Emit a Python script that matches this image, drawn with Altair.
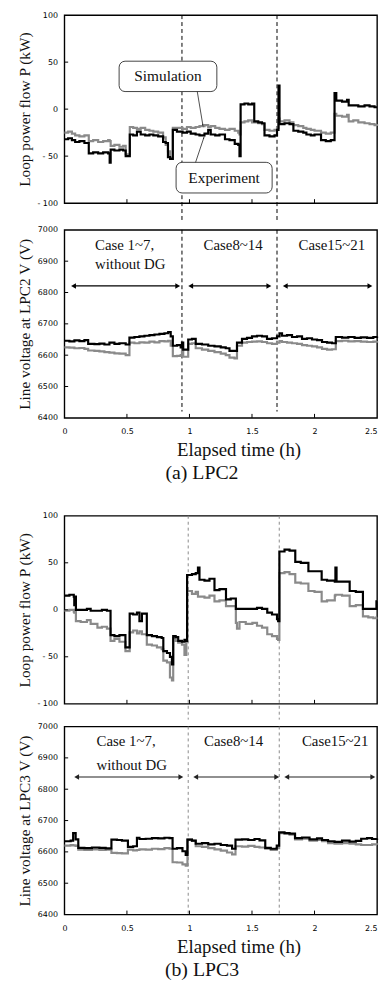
import altair as alt
import pandas as pd

# ---------------- data ----------------
# (a) LPC2 : loop power flow P (kW)
A1_T = [0.00, 0.03, 0.06, 0.086, 0.12, 0.16, 0.195, 0.23, 0.27, 0.31, 0.35, 0.362, 0.37, 0.40, 0.44, 0.47,
        0.49, 0.523, 0.55, 0.58, 0.61, 0.646, 0.68, 0.711, 0.75, 0.789, 0.81, 0.828, 0.845, 0.867, 0.90, 0.945,
        0.98, 1.01, 1.049, 1.08, 1.12, 1.15, 1.17, 1.206, 1.24, 1.284, 1.32, 1.362, 1.39, 1.40, 1.409, 1.44,
        1.47, 1.50, 1.518, 1.55, 1.58, 1.60, 1.64, 1.68, 1.70, 1.712, 1.72, 1.76, 1.80, 1.831, 1.87, 1.91,
        1.935, 1.97, 2.00, 2.052, 2.09, 2.13, 2.16, 2.174, 2.22, 2.26, 2.273, 2.31, 2.35, 2.40, 2.44, 2.48, 2.50]
A1_EXP = [-32, -31, -33, -35, -34, -36, -47, -46, -47, -46, -47, -57, -43, -44, -43, -44,
          -50, -27, -28, -24, -27, -28, -27, -28, -29, -35, -36, -51, -53, -22, -24, -25,
          -24, -26, -27, -28, -26, -22, -27, -28, -27, -32, -33, -37, -38, -50, 5, 6,
          5, 6, -13, -14, -15, -28, -29, -28, -22, 25, -16, -15, -16, -23, -24, -25,
          -27, -28, -27, -33, -34, -33, 17, 9, 8, 10, 4, 4, 3, 4, 3, 2, 2]
A1_SIM = [-25, -24, -26, -28, -29, -28, -34, -33, -35, -34, -33, -34, -39, -38, -40, -39,
          -48, -19, -20, -21, -20, -22, -23, -24, -25, -30, -38, -45, -52, -20, -20, -21,
          -19, -20, -19, -18, -17, -19, -18, -20, -21, -22, -21, -23, -25, -27, -14, -13,
          -12, -14, -14, -15, -16, -22, -23, -22, -20, -10, -13, -12, -14, -17, -18, -20,
          -21, -22, -23, -25, -26, -25, -5, -7, -8, -6, -13, -12, -14, -15, -16, -17, -18]

# (a) LPC2 : line voltage V (V)
A2_T = [0.00, 0.04, 0.08, 0.12, 0.16, 0.19, 0.24, 0.28, 0.32, 0.36, 0.40, 0.44, 0.49, 0.52, 0.56, 0.60,
        0.64, 0.68, 0.72, 0.76, 0.80, 0.83, 0.85, 0.867, 0.90, 0.93, 0.94, 0.95, 0.99, 1.02, 1.05, 1.10,
        1.15, 1.20, 1.25, 1.29, 1.32, 1.36, 1.38, 1.42, 1.46, 1.50, 1.54, 1.58, 1.62, 1.66, 1.70, 1.72,
        1.74, 1.78, 1.82, 1.86, 1.90, 1.94, 1.98, 2.02, 2.06, 2.10, 2.14, 2.17, 2.22, 2.27, 2.32, 2.37,
        2.42, 2.47, 2.50]
A2_EXP = [6646, 6644, 6647, 6645, 6648, 6636, 6635, 6637, 6634, 6640, 6636, 6638, 6634, 6656, 6658, 6660,
          6662, 6664, 6666, 6668, 6670, 6674, 6660, 6630, 6632, 6625, 6640, 6618, 6650, 6652, 6636, 6634,
          6630, 6628, 6625, 6622, 6614, 6614, 6640, 6652, 6655, 6660, 6662, 6660, 6652, 6654, 6660, 6670,
          6662, 6664, 6658, 6660, 6652, 6654, 6650, 6648, 6642, 6640, 6638, 6658, 6656, 6658, 6655, 6657,
          6655, 6658, 6660]
A2_SIM = [6625, 6624, 6622, 6623, 6620, 6615, 6614, 6612, 6610, 6608, 6606, 6605, 6600, 6640, 6638, 6641,
          6640, 6643, 6641, 6645, 6644, 6646, 6630, 6597, 6598, 6600, 6612, 6595, 6636, 6638, 6622, 6618,
          6614, 6610, 6605, 6600, 6592, 6590, 6630, 6640, 6642, 6643, 6644, 6642, 6638, 6636, 6640, 6645,
          6642, 6640, 6638, 6636, 6632, 6630, 6628, 6625, 6620, 6618, 6619, 6645, 6646, 6644, 6645, 6643,
          6642, 6643, 6645]

# (b) LPC3 : loop power flow P (kW)
B1_T = [0.00, 0.04, 0.075, 0.079, 0.085, 0.092, 0.13, 0.18, 0.21, 0.264, 0.30, 0.34, 0.369, 0.40, 0.44, 0.488,
        0.522, 0.55, 0.58, 0.60, 0.62, 0.659, 0.70, 0.74, 0.778, 0.791, 0.82, 0.844, 0.86, 0.87, 0.89, 0.91,
        0.94, 0.96, 0.975, 0.981, 1.02, 1.05, 1.068, 1.08, 1.12, 1.16, 1.20, 1.24, 1.292, 1.33, 1.371, 1.38,
        1.40, 1.45, 1.503, 1.54, 1.58, 1.622, 1.66, 1.70, 1.709, 1.719, 1.76, 1.80, 1.846, 1.89, 1.951, 2.00,
        2.057, 2.10, 2.162, 2.167, 2.176, 2.22, 2.281, 2.33, 2.387, 2.43, 2.47, 2.495, 2.50]
B1_EXP = [15, 16, 14, 5, 14, 0, 0, 1, -1, -1, 0, -1, -27, -28, -27, -40,
          -4, -5, -3, -12, -4, -27, -28, -29, -30, -44, -46, -50, -58, -28, -29, -33,
          -34, -32, -33, 37, 38, 39, 45, 32, 31, 33, 21, 22, 11, 12, 1, 1,
          1, 1, 1, 2, 1, -3, -5, -10, -12, 62, 64, 63, 51, 50, 41, 41,
          32, 31, 30, 45, 30, 30, 20, 19, 1, 1, 1, 9, 9]
B1_SIM = [-1, 0, -2, -3, -1, -12, -13, -11, -15, -19, -18, -20, -33, -31, -34, -44,
          -24, -22, -25, -23, -26, -37, -38, -40, -42, -54, -56, -72, -75, -30, -33, -35,
          -37, -48, -34, 20, 17, 19, 14, 14, 13, 15, 9, 10, 4, 4, -14, -20,
          -13, -15, -14, -17, -19, -26, -28, -31, -32, 39, 40, 38, 29, 28, 20, 19,
          9, 10, 15, 16, 16, 15, 4, 5, -7, -8, -9, -8, -8]

# (b) LPC3 : line voltage V (V)
B2_T = [0.00, 0.05, 0.07, 0.09, 0.111, 0.16, 0.22, 0.28, 0.33, 0.376, 0.42, 0.46, 0.508, 0.55, 0.58, 0.60,
        0.65, 0.70, 0.75, 0.80, 0.84, 0.865, 0.90, 0.944, 0.97, 0.984, 1.02, 1.05, 1.10, 1.15, 1.20, 1.25,
        1.30, 1.341, 1.368, 1.42, 1.47, 1.52, 1.56, 1.606, 1.65, 1.698, 1.717, 1.76, 1.80, 1.844, 1.90, 1.96,
        2.02, 2.06, 2.108, 2.16, 2.22, 2.28, 2.33, 2.373, 2.42, 2.46, 2.50]
B2_EXP = [6634, 6636, 6660, 6640, 6613, 6612, 6614, 6613, 6611, 6639, 6638, 6636, 6616, 6618, 6645, 6641,
          6642, 6644, 6643, 6645, 6644, 6610, 6612, 6602, 6590, 6639, 6636, 6626, 6628, 6624, 6626, 6622,
          6620, 6610, 6639, 6640, 6638, 6641, 6637, 6613, 6610, 6620, 6662, 6660, 6658, 6644, 6646, 6640,
          6643, 6638, 6634, 6632, 6636, 6633, 6635, 6642, 6644, 6641, 6643]
B2_SIM = [6620, 6622, 6621, 6619, 6607, 6606, 6608, 6606, 6607, 6597, 6596, 6595, 6607, 6605, 6606, 6608,
          6607, 6610, 6609, 6612, 6610, 6567, 6566, 6560, 6556, 6639, 6635, 6618, 6616, 6612, 6608, 6604,
          6598, 6592, 6618, 6617, 6619, 6616, 6614, 6610, 6606, 6612, 6660, 6658, 6655, 6640, 6642, 6636,
          6638, 6634, 6628, 6626, 6628, 6626, 6624, 6622, 6622, 6624, 6623]

P_TICKS = [-100, -50, 0, 50, 100]
V_TICKS = [6400, 6500, 6600, 6700, 6800, 6900, 7000]
X_TICKS = [0, 0.5, 1, 1.5, 2, 2.5]
CASE_TEXT = ["Case 1~7,", "without DG", "Case8~14", "Case15~21"]

BLACK = "#000000"
GRAY = "#8a8a8a"
SERIF = "Liberation Serif"
SANS = "DejaVu Sans"
H = 190
W = 316


def make_panel(T, exp, sim, ydom, yticks, ytitle, bottom_label=None,
               dashes=(), dash_v2=None, dash_color=BLACK, dash_pattern=(4, 3),
               arrows=None, arrow_v=None, arrow_color=BLACK, texts=None, callouts=False,
               tick_px_units=None, bottom_space=None):
    xs = alt.Scale(domain=[0, 2.5], nice=False, zero=False)
    ys = alt.Scale(domain=ydom, nice=False, zero=False)
    if ydom[0] < 0:
        lab = "datum.value < 0 ? '- ' + abs(datum.value) : datum.label"
    else:
        lab = "datum.label"
    yaxis = alt.Axis(values=yticks, title=ytitle, ticks=False, domain=False, grid=False,
                     labelFont=SANS, labelFontSize=8, labelColor="#000", labelPadding=7,
                     labelExpr=lab, format="d",
                     titleFont=SERIF, titleFontSize=15.5, titleFontWeight="normal", titleColor="#111",
                     titlePadding=8, minExtent=24, maxExtent=24)
    if bottom_label is not None:
        xaxis = alt.Axis(values=X_TICKS, title="Elapsed time (h)", ticks=False, domain=False, grid=False,
                         labelFont=SANS, labelFontSize=8, labelColor="#000", labelPadding=10,
                         labelFlush=False, format="~g",
                         labelAlign={"condition": {"test": "datum.value >= 2.5", "value": "right"},
                                     "value": "center"},
                         titleFont=SERIF, titleFontSize=19, titleFontWeight="normal", titleColor="#111",
                         titlePadding=5, titleX=176, titleAlign="center")
    else:
        xaxis = None
    X = alt.X("t:Q", scale=xs, axis=xaxis)
    Y = alt.Y("v:Q", scale=ys, axis=yaxis)
    X2 = alt.X2("t2:Q")
    Y2 = alt.Y2("v2:Q")

    layers = []
    # vertical dashed separators
    ddf = pd.DataFrame({"t": list(dashes), "v": [ydom[1]] * len(dashes), "v2": [dash_v2] * len(dashes)})
    layers.append(alt.Chart(ddf).mark_rule(color=dash_color, strokeWidth=1,
                                           strokeDash=list(dash_pattern)).encode(x=X, y=Y, y2=Y2))
    # series
    sdf = pd.DataFrame({"t": T, "v": sim})
    edf = pd.DataFrame({"t": T, "v": exp})
    layers.append(alt.Chart(sdf).mark_line(color=GRAY, strokeWidth=2.2, interpolate="step-after")
                  .encode(x=X, y=Y))
    layers.append(alt.Chart(edf).mark_line(color=BLACK, strokeWidth=2.2, interpolate="step-after")
                  .encode(x=X, y=Y))
    # inward ticks
    dv = tick_px_units
    tx = [v for v in X_TICKS if 0 < v < 2.5]
    ty = [v for v in yticks if ydom[0] < v < ydom[1]]
    tdf = pd.DataFrame({"t": tx + [0] * len(ty),
                        "t2": tx + [0.03] * len(ty),
                        "v": [ydom[0]] * len(tx) + ty,
                        "v2": [ydom[0] + dv] * len(tx) + ty})
    layers.append(alt.Chart(tdf).mark_rule(color=BLACK, strokeWidth=1).encode(x=X, x2=X2, y=Y, y2=Y2))

    if arrows is not None:
        adf = pd.DataFrame({"t": [a[0] for a in arrows], "t2": [a[1] for a in arrows],
                            "v": [arrow_v] * len(arrows)})
        layers.append(alt.Chart(adf).mark_rule(color=arrow_color, strokeWidth=1.2)
                      .encode(x=X, x2=X2, y=Y))
        ldf = pd.DataFrame({"t": [a[0] for a in arrows], "v": [arrow_v] * len(arrows)})
        rdf = pd.DataFrame({"t": [a[1] for a in arrows], "v": [arrow_v] * len(arrows)})
        layers.append(alt.Chart(ldf).mark_point(shape="triangle-left", filled=True, size=32,
                                                color=arrow_color, opacity=1).encode(x=X, y=Y))
        layers.append(alt.Chart(rdf).mark_point(shape="triangle-right", filled=True, size=32,
                                                color=arrow_color, opacity=1).encode(x=X, y=Y))
    if texts is not None:
        for (t, v, s, al) in texts:
            tdf2 = pd.DataFrame({"t": [t], "v": [v], "label": [s]})
            layers.append(alt.Chart(tdf2).mark_text(font=SERIF, fontSize=15, color="#111", align=al,
                                                    baseline="middle")
                          .encode(x=X, y=Y, text="label:N"))
    if callouts:
        bdf = pd.DataFrame({"t": [0.4375, 0.893], "t2": [1.219, 1.661],
                            "v": [51, -56.6], "v2": [18.7, -89.2]})
        layers.append(alt.Chart(bdf).mark_rect(fill="white", stroke="#444", strokeWidth=1,
                                               cornerRadius=6).encode(x=X, x2=X2, y=Y, y2=Y2))
        cdf = pd.DataFrame({"t": [0.828, 1.277], "v": [35, -73], "label": ["Simulation", "Experiment"]})
        layers.append(alt.Chart(cdf).mark_text(font=SERIF, fontSize=15.5, color="#111", align="center",
                                               baseline="middle").encode(x=X, y=Y, text="label:N"))
        pdf = pd.DataFrame({"t": [1.0625, 1.049], "t2": [1.107, 1.115], "v": [18.7, -56.6], "v2": [-17, -30.3]})
        layers.append(alt.Chart(pdf).mark_rule(color="#222", strokeWidth=0.8)
                      .encode(x=X, x2=X2, y=Y, y2=Y2))
        hdf = pd.DataFrame({"t": [1.107, 1.115], "v": [-17, -30.3], "ang": [170, 18]})
        layers.append(alt.Chart(hdf).mark_point(shape="wedge", filled=True, size=22, color="#222", opacity=1)
                      .encode(x=X, y=Y, angle=alt.Angle("ang:Q", scale=None)))
    if bottom_label is not None:
        txt, tpos = bottom_label
        bl = pd.DataFrame({"t": [tpos], "label": [txt]})
        layers.append(alt.Chart(bl).mark_text(font=SERIF, fontSize=20, color="#111", align="center",
                                              baseline="middle")
                      .encode(x=X, y=alt.value(H + 56), text="label:N"))
    if bottom_space is not None:
        # invisible spacer that reserves room below the panel
        sp = pd.DataFrame({"t": [0.5]})
        layers.append(alt.Chart(sp).mark_rule(color="white", strokeWidth=1, opacity=0.01)
                      .encode(x=X, y=alt.value(H + bottom_space - 2), y2=alt.value(H + bottom_space)))

    return alt.layer(*layers).properties(width=W, height=H)


a1 = make_panel(A1_T, A1_EXP, A1_SIM, [-100, 100], P_TICKS, "Loop power flow P (kW)",
                dashes=(0.94, 1.70), dash_v2=-121, callouts=True, tick_px_units=4.2)
a2 = make_panel(A2_T, A2_EXP, A2_SIM, [6400, 7000], V_TICKS, "Line voltage at LPC2 V (V)",
                bottom_label=("(a) LPC2", 1.10), dashes=(0.94, 1.70), dash_v2=6420,
                arrows=[(0.073, 0.906), (1.01, 1.635), (1.766, 2.443)], arrow_v=6821,
                texts=[(0.245, 6951, CASE_TEXT[0], "left"), (0.245, 6890, CASE_TEXT[1], "left"),
                       (1.349, 6951, CASE_TEXT[2], "center"), (2.138, 6951, CASE_TEXT[3], "center")],
                tick_px_units=12.6, bottom_space=92)
b1 = make_panel(B1_T, B1_EXP, B1_SIM, [-100, 100], P_TICKS, "Loop power flow P (kW)",
                dashes=(0.99, 1.718), dash_v2=-116.8, dash_color="#8a8a8a", dash_pattern=(3, 3),
                tick_px_units=4.2)
b2 = make_panel(B2_T, B2_EXP, B2_SIM, [6400, 7000], V_TICKS, "Line voltage at LPC3 V (V)",
                bottom_label=("(b) LPC3", 1.10), dashes=(0.99, 1.718), dash_v2=6400,
                dash_color="#8a8a8a", dash_pattern=(3, 3),
                arrows=[(0.098, 0.931), (1.05, 1.698), (1.778, 2.466)], arrow_v=6839, arrow_color="#222",
                texts=[(0.257, 6954, CASE_TEXT[0], "left"), (0.257, 6877, CASE_TEXT[1], "left"),
                       (1.353, 6954, CASE_TEXT[2], "center"), (2.165, 6954, CASE_TEXT[3], "center")],
                tick_px_units=12.6)

chart = alt.vconcat(a1, a2, b1, b2, spacing=0).properties(
    padding={"left": 9, "top": -3, "right": 0, "bottom": 0},
    background="white",
).configure_view(stroke="black", strokeWidth=1.4)

chart.save("out.html", embed_options={"renderer": "svg", "actions": False})
